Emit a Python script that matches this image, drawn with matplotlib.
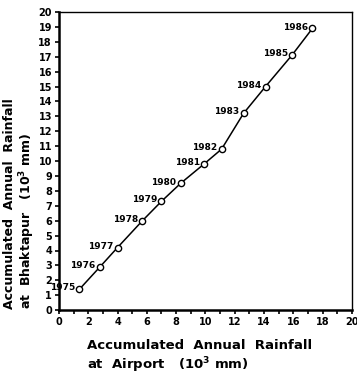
import matplotlib.pyplot as plt
from matplotlib.ticker import MultipleLocator

years = ["1975", "1976", "1977", "1978", "1979", "1980",
         "1981", "1982", "1983", "1984", "1985", "1986"]
# accumulated annual rainfall (10^3 mm)
airport = [1.4, 2.8, 4.0, 5.7, 7.0, 8.3, 9.9, 11.1, 12.6, 14.1, 15.9, 17.3]
bhaktapur = [1.4, 2.9, 4.2, 6.0, 7.3, 8.5, 9.8, 10.8, 13.2, 15.0, 17.1, 18.9]

plt.rcParams['font.family'] = 'DejaVu Sans'
plt.rcParams['font.weight'] = 'bold'

fig = plt.figure(figsize=(3.57, 3.75), dpi=100)
ax = fig.add_axes([0.165, 0.173, 0.821, 0.795])

ax.plot(airport, bhaktapur, color='black', lw=1.1, marker='o', ms=4.5,
        mfc='white', mec='black', mew=1.0)

for yr, x, y in zip(years, airport, bhaktapur):
    ax.annotate(yr, (x, y), xytext=(-3, 1), textcoords='offset points',
                ha='right', va='center', fontsize=6.5)

ax.set_xlim(0, 20)
ax.set_ylim(0, 20)
ax.xaxis.set_major_locator(MultipleLocator(2))
ax.xaxis.set_minor_locator(MultipleLocator(1))
ax.yaxis.set_major_locator(MultipleLocator(1))
ax.tick_params(axis='both', which='major', labelsize=7, length=3, width=1.2, pad=2)
ax.tick_params(axis='x', which='minor', length=3, width=1.2)
for s in ax.spines.values():
    s.set_linewidth(1.0)
ax.spines['left'].set_linewidth(1.8)
ax.spines['bottom'].set_linewidth(1.8)

fig.text(0.245, 0.048, "Accumulated  Annual  Rainfall\nat  Airport   (10$^3$ mm)",
         ha='left', va='center', fontsize=9.5, linespacing=1.25)
fig.text(0.008, 0.175, "Accumulated  Annual  Rainfall\nat  Bhaktapur   (10$^3$ mm)",
         ha='left', va='top', rotation=90, rotation_mode='anchor',
         fontsize=9, linespacing=1.1, multialignment='left')

fig.savefig('out.png', dpi=100)
